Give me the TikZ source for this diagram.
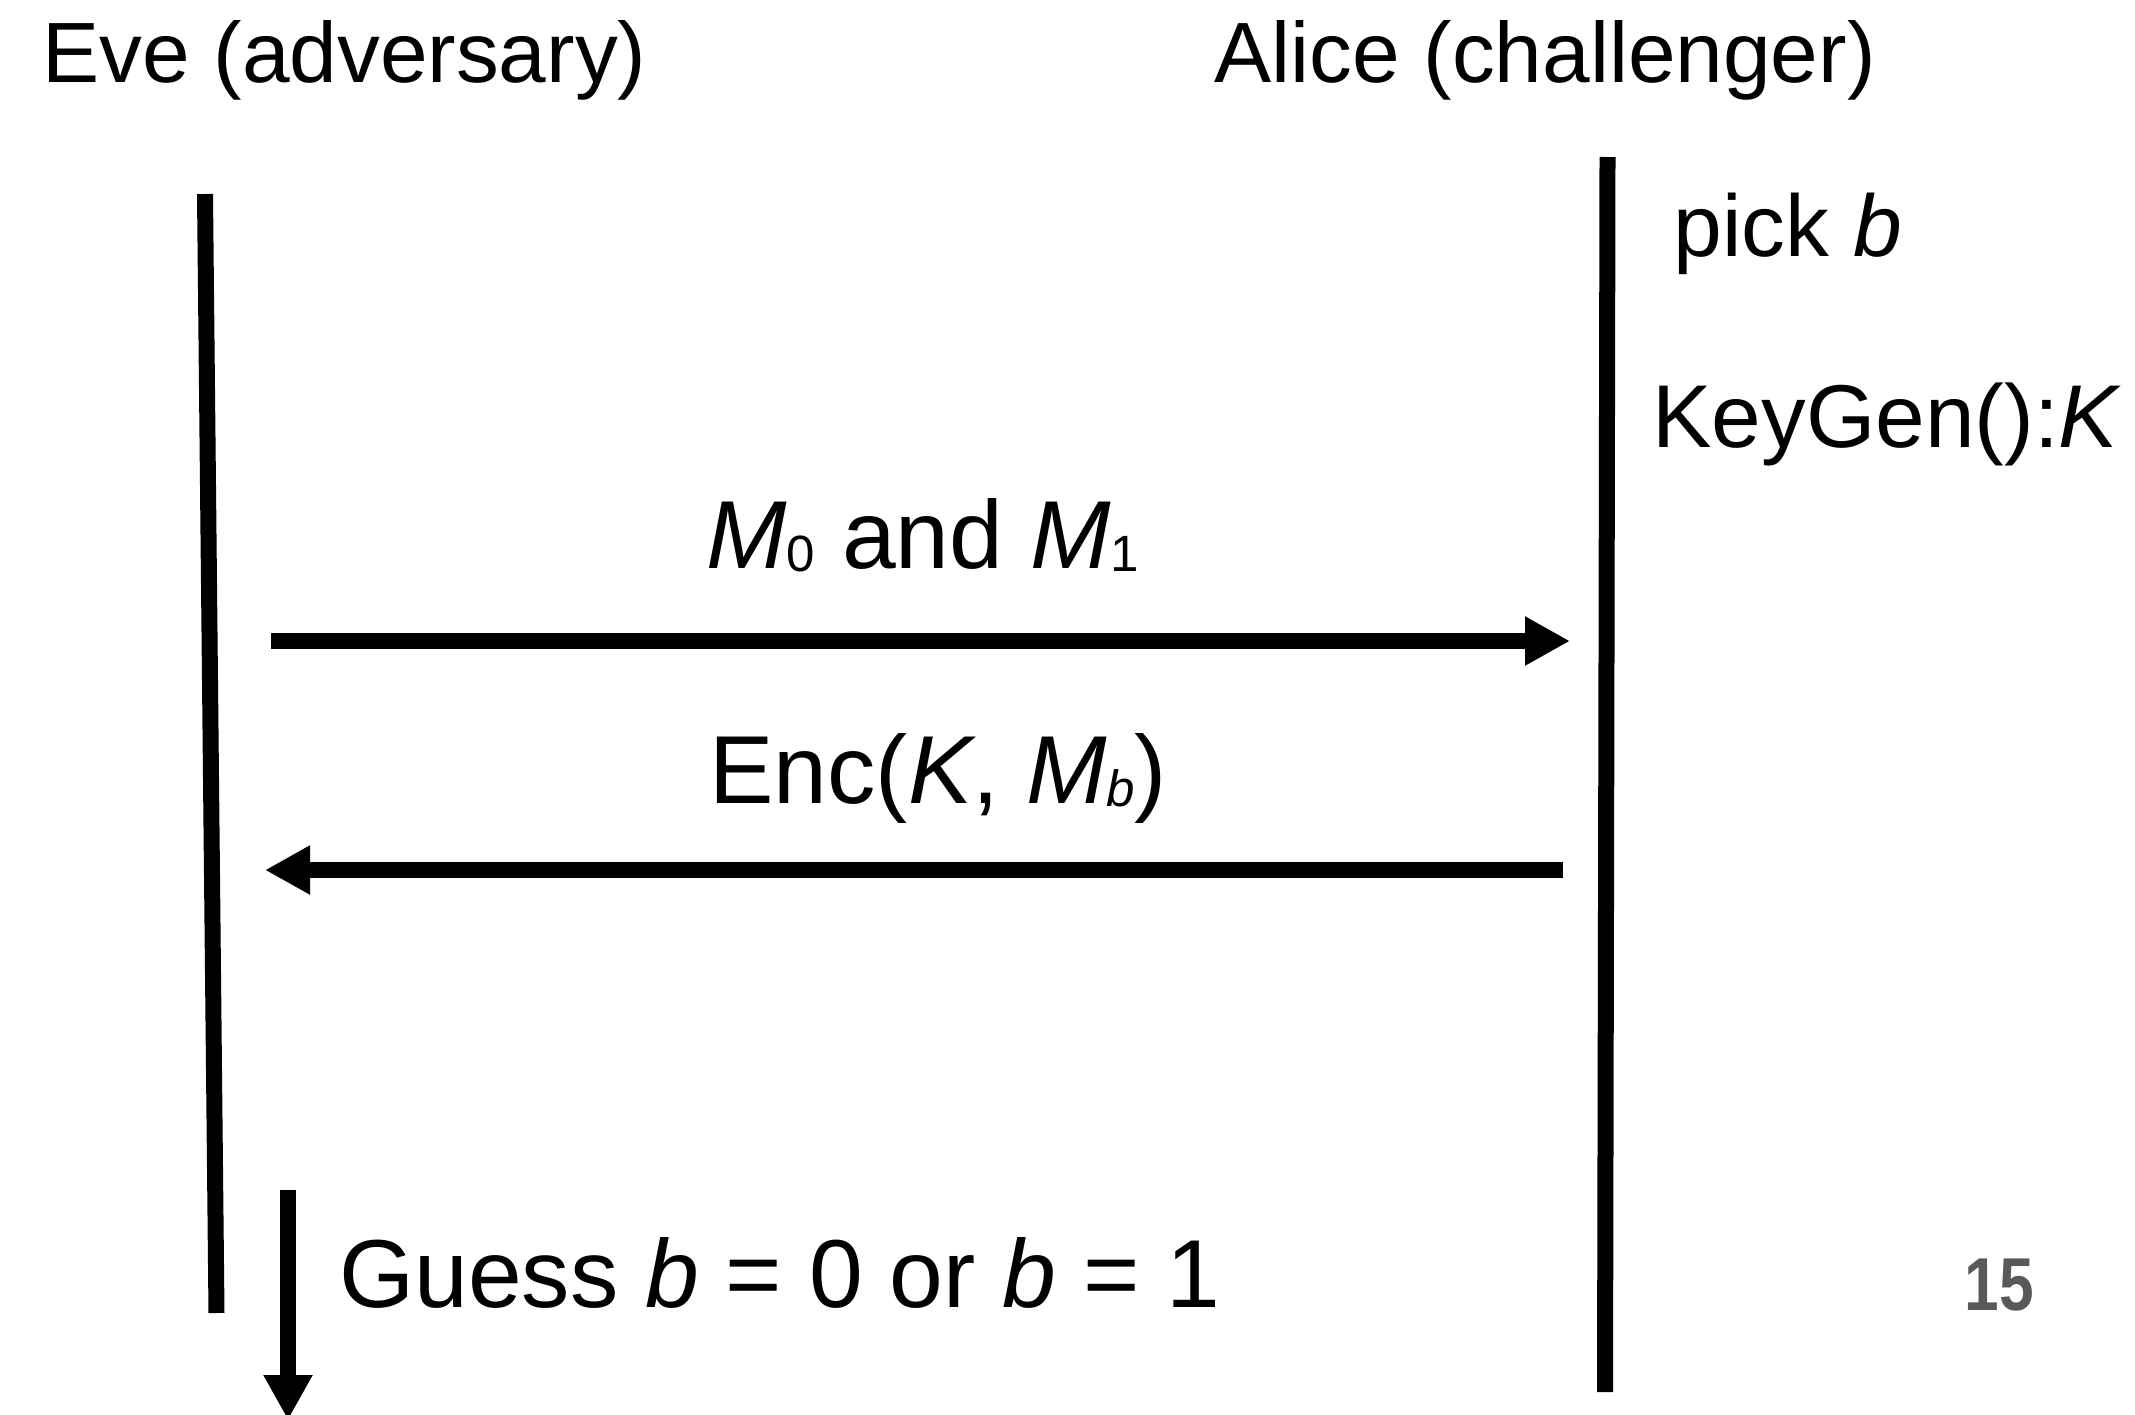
\documentclass[tikz,border=0pt]{standalone}
\usepackage{fontspec}
\setmainfont{Liberation Sans}
\usetikzlibrary{arrows.meta}
\newcommand\lowsub[1]{\raisebox{-1.5pt}{\fontsize{25.5}{25.5}\selectfont #1}}
\begin{document}
\begin{tikzpicture}[x=0.5pt,y=-0.5pt,
  lifeline/.style={line width=8pt},
  msgarrow/.style={line width=8pt,-{Triangle[length=22.5pt,width=23pt]}},
  lbl/.style={anchor=base west,inner sep=0pt,font=\fontsize{48.3}{55}\selectfont},
  titlelbl/.style={anchor=base west,inner sep=0pt,font=\fontsize{42.8}{50}\selectfont},
  notelbl/.style={anchor=base west,inner sep=0pt,font=\fontsize{43.8}{50}\selectfont},
  keylbl/.style={anchor=base west,inner sep=0pt,font=\fontsize{44.6}{50}\selectfont},
  pagelbl/.style={anchor=base west,inner sep=0pt,text=black!65,font=\fontsize{37.5}{42}\selectfont\bfseries}]
\useasboundingbox (0,0) rectangle (2135,1414);
% titles
\node[titlelbl] (eve) at (42,82) {Eve (adversary)};
\node[titlelbl] (alice) at (1214,82) {Alice (challenger)};
% lifelines
\coordinate (evetop) at (205,194);
\coordinate (evebot) at (216.5,1313);
\coordinate (alicetop) at (1607.5,157);
\coordinate (alicebot) at (1605,1392);
\draw[lifeline] (evetop) -- (evebot);
\draw[lifeline] (alicetop) -- (alicebot);
% Alice notes
\node[notelbl] (pick) at (1673,256) {pick \textit{b}};
\node[keylbl] (keygen) at (1652,447) {KeyGen():\textit{K}};
% message 1
\node[lbl] (msgone) at (706,568) {\textit{M}\lowsub{0} and \textit{M}\lowsub{1}};
\coordinate (m1s) at (271,641);
\coordinate (m1e) at (1570,641);
\draw[msgarrow] (m1s) -- (m1e);
% message 2
\node[lbl] (msgtwo) at (709,803) {Enc(\textit{K}, \textit{M}\lowsub{\textit{b}})};
\coordinate (m2s) at (1563,870);
\coordinate (m2e) at (265,870);
\draw[msgarrow] (m2s) -- (m2e);
% guess
\coordinate (gs) at (288,1190);
\coordinate (ge) at (288,1420);
\draw[msgarrow] (gs) -- (ge);
\node[lbl] (guess) at (339,1307) {Guess \textit{b} = 0 or \textit{b} = 1};
% page number
\node[pagelbl] (pagenum) at (1964,1310) {\scalebox{0.83}[1]{15}};
\end{tikzpicture}
\end{document}
